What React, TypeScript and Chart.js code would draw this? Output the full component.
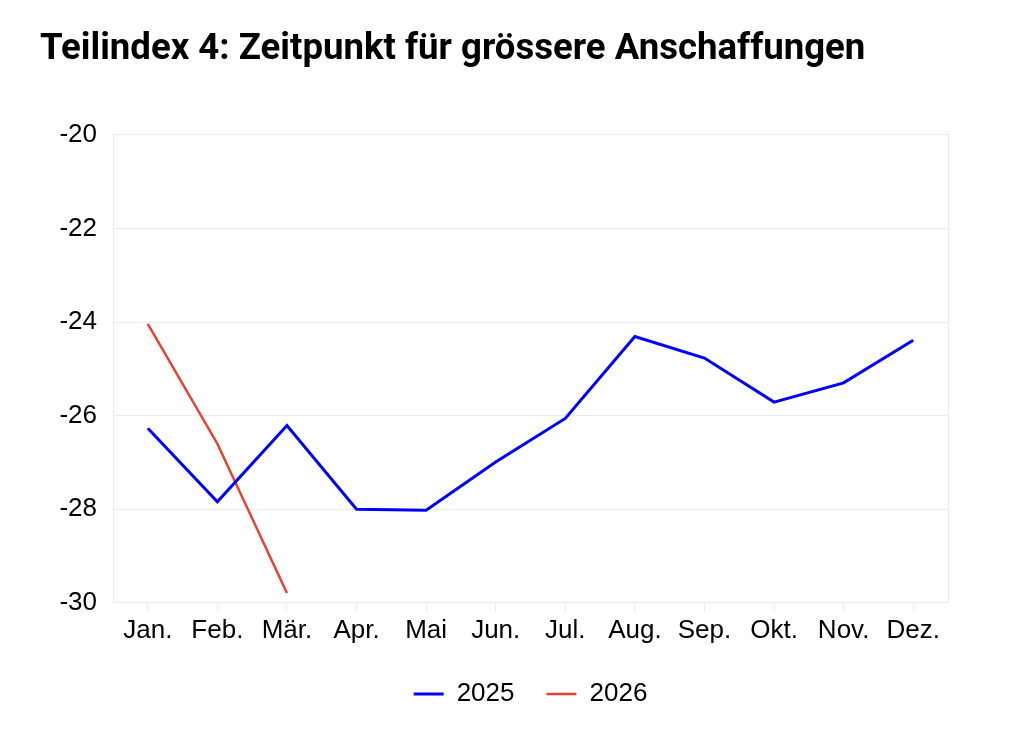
import { useEffect, useRef } from 'react';
import Chart from 'chart.js/auto';

// Monate und Werte
const MONTHS = ['Jan.', 'Feb.', 'Mär.', 'Apr.', 'Mai', 'Jun.', 'Jul.', 'Aug.', 'Sep.', 'Okt.', 'Nov.', 'Dez.'];
const VALUES_2025 = [-26.27, -27.84, -26.21, -28.0, -28.02, -26.99, -26.06, -24.31, -24.77, -25.71, -25.3, -24.39];
const VALUES_2026 = [-24.04, -26.6, -29.79];
const SERIES_LABELS = ['2025', '2026'];
const Y_MIN = -30;
const Y_MAX = -20;
const Y_STEP = 2;

const TITLE = 'Teilindex 4: Zeitpunkt für grössere Anschaffungen';

const BLUE = '#0000ff';
const RED = '#e8412f';
const GRID = '#ebebeb';
const TEXT = '#000000';
const FONT = "'Liberation Sans', Arial, Helvetica, sans-serif";

const App = () => {
  const canvasRef = useRef<HTMLCanvasElement>(null);

  useEffect(() => {
    document.body.style.margin = '0';
    if (!canvasRef.current) return;

    const chart = new Chart(canvasRef.current, {
      type: 'line',
      data: {
        labels: MONTHS,
        datasets: [
          {
            label: SERIES_LABELS[0],
            data: VALUES_2025,
            borderColor: BLUE,
            backgroundColor: BLUE,
            borderWidth: 3,
            pointRadius: 0,
            tension: 0,
          },
          {
            label: SERIES_LABELS[1],
            data: VALUES_2026,
            borderColor: RED,
            backgroundColor: RED,
            borderWidth: 2.5,
            pointRadius: 0,
            tension: 0,
          },
        ],
      },
      options: {
        animation: false,
        responsive: true,
        maintainAspectRatio: false,
        layout: {
          padding: { left: 40, right: 76, top: 0, bottom: 36 },
        },
        plugins: {
          title: {
            display: true,
            text: TITLE,
            align: 'start',
            color: TEXT,
            font: { family: 'Roboto', size: 36.6, weight: 'bold' },
            padding: { top: 28, bottom: 63 },
          },
          legend: {
            position: 'bottom',
            fullSize: false,
            labels: {
              color: TEXT,
              font: { family: FONT, size: 26 },
              usePointStyle: true,
              pointStyle: 'line',
              pointStyleWidth: 30,
              padding: 32,
            },
          },
          tooltip: { enabled: false },
        },
        scales: {
          x: {
            offset: true,
            grid: {
              drawOnChartArea: false,
              drawTicks: true,
              tickLength: 9,
              color: GRID,
            },
            border: { display: true, color: GRID },
            ticks: {
              color: TEXT,
              font: { family: FONT, size: 26 },
              padding: 3,
              maxRotation: 0,
              autoSkip: false,
            },
          },
          y: {
            min: Y_MIN,
            max: Y_MAX,
            afterFit: (axis: any) => {
              axis.width = 73;
            },
            grid: { color: GRID, drawTicks: false },
            border: { display: true, color: GRID },
            ticks: {
              stepSize: Y_STEP,
              color: TEXT,
              padding: 16,
              font: { family: FONT, size: 26 },
            },
          },
          yRight: {
            position: 'right',
            min: Y_MIN,
            max: Y_MAX,
            grid: { drawOnChartArea: false, drawTicks: false },
            border: { display: true, color: GRID },
            ticks: { display: false },
          },
        },
      },
    });

    return () => chart.destroy();
  }, []);

  return (
    <div style={{ width: 1024, height: 753, position: 'relative', background: '#fff' }}>
      <canvas ref={canvasRef} />
    </div>
  );
};

export default App;
